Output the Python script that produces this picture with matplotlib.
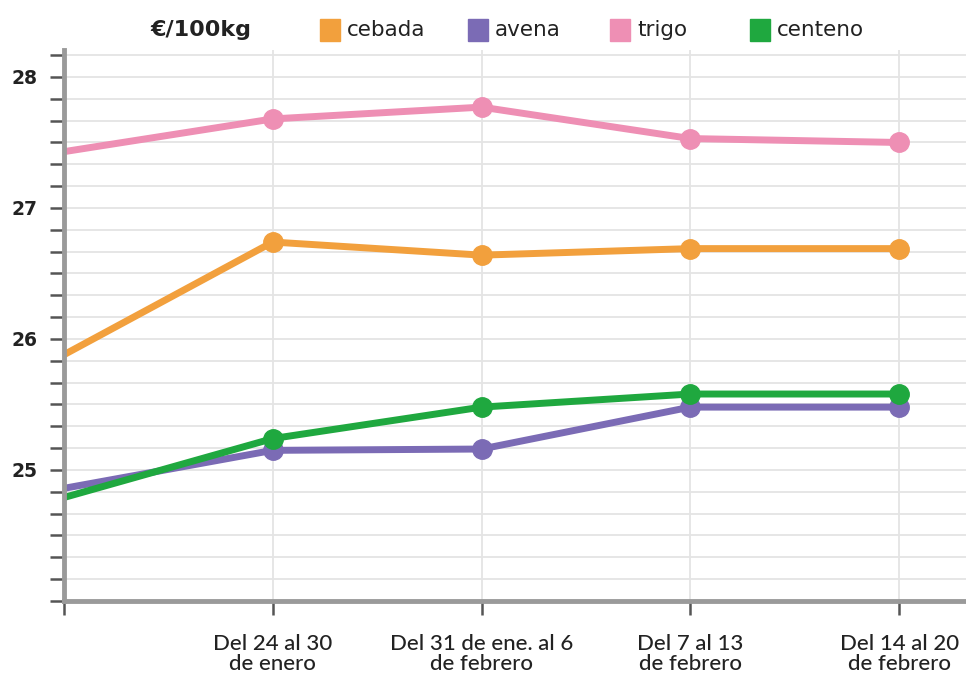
import matplotlib
matplotlib.use("Agg")
import matplotlib.pyplot as plt
from matplotlib.ticker import MultipleLocator, FixedLocator
import numpy as np

plt.rcParams['font.family'] = ['Lato', 'DejaVu Sans']

categories = ["", "Del 24 al 30\nde enero", "Del 31 de ene. al 6\nde febrero",
              "Del 7 al 13\nde febrero", "Del 14 al 20\nde febrero"]
cebada = [25.88, 26.74, 26.64, 26.69, 26.69]
avena = [24.86, 25.15, 25.16, 25.48, 25.48]
trigo = [27.43, 27.68, 27.77, 27.53, 27.50]
centeno = [24.79, 25.24, 25.48, 25.58, 25.58]
series_names = ["cebada", "avena", "trigo", "centeno"]
colors = {"cebada": "#F2A03D", "avena": "#7B6BB5", "trigo": "#EE8FB4", "centeno": "#1FA83F"}
series = {"cebada": cebada, "avena": avena, "trigo": trigo, "centeno": centeno}
y_major = [25, 26, 27, 28]

fig = plt.figure(figsize=(9.66, 6.75), dpi=100)
ax = fig.add_axes([64/966, 74/675, 1 - 64/966, 551/675])

x = np.arange(len(categories))
ax.set_xlim(0, 4.32)
ax.set_ylim(24, 28.206)

ax.yaxis.set_major_locator(FixedLocator(y_major))
ax.yaxis.set_minor_locator(MultipleLocator(1/6))
ax.set_xticks(x)
ax.set_xticklabels(categories)
for yv in np.arange(24 + 1/6, 28.21, 1/6):
    ax.axhline(yv, color="#e4e4e4", lw=1.3, zorder=0)
for xv in x[1:]:
    ax.axvline(xv, color="#e4e4e4", lw=1.3, zorder=0)

for name in series_names:
    vals = series[name]
    ax.plot(x, vals, color=colors[name], lw=5, zorder=3, solid_capstyle='butt')
    ax.plot(x[1:], vals[1:], 'o', color=colors[name], ms=14, zorder=4)

for s in ["top", "right"]:
    ax.spines[s].set_visible(False)
for s in ["left", "bottom"]:
    ax.spines[s].set_color("#9a9a9a")
    ax.spines[s].set_linewidth(3.5)
    ax.spines[s].set_zorder(5)

ax.tick_params(axis='y', which='both', length=10, width=1.8, color="#555555",
               direction='out', labelcolor="#222222", pad=9)
ax.tick_params(axis='x', which='major', length=10, width=1.8, color="#555555",
               direction='out', labelcolor="#222222", pad=14)
for lbl in ax.get_yticklabels():
    lbl.set_family(['DejaVu Sans'])
    lbl.set_fontsize(13.5)
    lbl.set_fontweight('bold')
for lbl in ax.get_xticklabels():
    lbl.set_fontsize(16)
    lbl.set_fontweight('medium')
    lbl.set_linespacing(0.95)

# legend / header
fig.text(150/966, 1 - 30/675, "€/100kg", fontsize=16, fontweight='bold',
         family=['DejaVu Sans'], color="#222222", va='center', ha='left')
leg_pos = [(320, "cebada"), (468, "avena"), (610, "trigo"), (750, "centeno")]
for px, name in leg_pos:
    fig.patches.append(plt.Rectangle((px/966, 1 - 41/675), 20/966, 22/675,
                                     transform=fig.transFigure, color=colors[name],
                                     figure=fig))
    fig.text((px + 27)/966, 1 - 30/675, name, fontsize=15.5, color="#222222",
             family=['DejaVu Sans'], va='center', ha='left')

fig.savefig("out.png", dpi=100, facecolor="white")
